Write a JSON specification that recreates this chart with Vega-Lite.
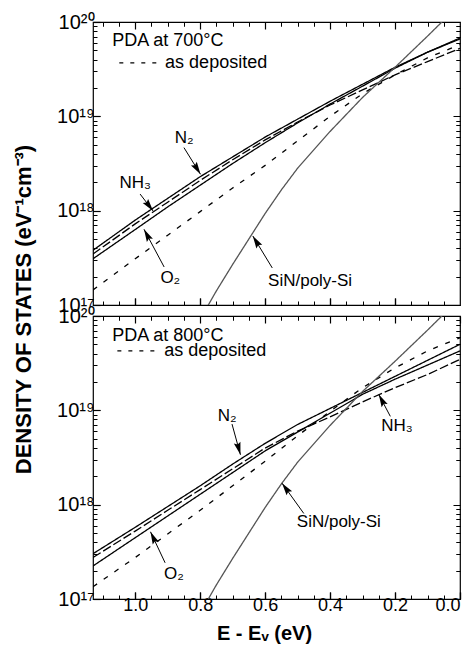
{
  "$schema": "https://vega.github.io/schema/vega-lite/v6.json",
  "background": "white",
  "padding": {"left": 11, "top": 11, "right": 0, "bottom": 0},
  "bounds": "flush",
  "spacing": 11,
  "config": {
    "font": "Liberation Sans",
    "view": {"stroke": "black", "strokeWidth": 1.2},
    "axis": {"domain": false, "labelColor": "black", "titleColor": "black", "labelFont": "Liberation Sans", "titleFont": "Liberation Sans", "labelOverlap": false}
  },
  "datasets": {
    "curves": [
      {"p":"700","s":"O2","x":1.13,"y":3.09e17},{"p":"700","s":"O2","x":1.0,"y":6.31e17},{"p":"700","s":"O2","x":0.9,"y":1.096e18},{"p":"700","s":"O2","x":0.8,"y":1.862e18},{"p":"700","s":"O2","x":0.7,"y":3.162e18},{"p":"700","s":"O2","x":0.6,"y":5.248e18},{"p":"700","s":"O2","x":0.5,"y":8.511e18},{"p":"700","s":"O2","x":0.4,"y":1.349e19},{"p":"700","s":"O2","x":0.3,"y":2.089e19},{"p":"700","s":"O2","x":0.2,"y":3.236e19},{"p":"700","s":"O2","x":0.1,"y":4.786e19},{"p":"700","s":"O2","x":0.0,"y":6.607e19},
      {"p":"700","s":"N2","x":1.13,"y":3.802e17},{"p":"700","s":"N2","x":1.0,"y":7.943e17},{"p":"700","s":"N2","x":0.9,"y":1.349e18},{"p":"700","s":"N2","x":0.8,"y":2.291e18},{"p":"700","s":"N2","x":0.7,"y":3.715e18},{"p":"700","s":"N2","x":0.6,"y":6.026e18},{"p":"700","s":"N2","x":0.5,"y":9.333e18},{"p":"700","s":"N2","x":0.4,"y":1.445e19},{"p":"700","s":"N2","x":0.3,"y":2.188e19},{"p":"700","s":"N2","x":0.2,"y":3.311e19},{"p":"700","s":"N2","x":0.1,"y":4.786e19},{"p":"700","s":"N2","x":0.0,"y":6.761e19},
      {"p":"700","s":"NH3","x":1.13,"y":3.467e17},{"p":"700","s":"NH3","x":1.0,"y":7.244e17},{"p":"700","s":"NH3","x":0.9,"y":1.23e18},{"p":"700","s":"NH3","x":0.8,"y":2.089e18},{"p":"700","s":"NH3","x":0.7,"y":3.467e18},{"p":"700","s":"NH3","x":0.6,"y":5.623e18},{"p":"700","s":"NH3","x":0.5,"y":8.71e18},{"p":"700","s":"NH3","x":0.4,"y":1.318e19},{"p":"700","s":"NH3","x":0.3,"y":1.905e19},{"p":"700","s":"NH3","x":0.2,"y":2.754e19},{"p":"700","s":"NH3","x":0.1,"y":3.802e19},{"p":"700","s":"NH3","x":0.0,"y":5.248e19},
      {"p":"700","s":"dep","x":1.13,"y":1.445e17},{"p":"700","s":"dep","x":1.0,"y":3.09e17},{"p":"700","s":"dep","x":0.9,"y":5.495e17},{"p":"700","s":"dep","x":0.8,"y":9.772e17},{"p":"700","s":"dep","x":0.7,"y":1.738e18},{"p":"700","s":"dep","x":0.6,"y":3.02e18},{"p":"700","s":"dep","x":0.5,"y":5.495e18},{"p":"700","s":"dep","x":0.4,"y":1e19},{"p":"700","s":"dep","x":0.3,"y":1.738e19},{"p":"700","s":"dep","x":0.2,"y":2.754e19},{"p":"700","s":"dep","x":0.1,"y":4.169e19},{"p":"700","s":"dep","x":0.0,"y":5.754e19},
      {"p":"700","s":"SiN","x":0.79,"y":8.128e16},{"p":"700","s":"SiN","x":0.75,"y":1.413e17},{"p":"700","s":"SiN","x":0.7,"y":2.692e17},{"p":"700","s":"SiN","x":0.65,"y":5.012e17},{"p":"700","s":"SiN","x":0.6,"y":9.333e17},{"p":"700","s":"SiN","x":0.55,"y":1.66e18},{"p":"700","s":"SiN","x":0.5,"y":2.818e18},{"p":"700","s":"SiN","x":0.4,"y":6.918e18},{"p":"700","s":"SiN","x":0.3,"y":1.585e19},{"p":"700","s":"SiN","x":0.2,"y":3.311e19},{"p":"700","s":"SiN","x":0.1,"y":7.079e19},{"p":"700","s":"SiN","x":0.05,"y":1.047e20},{"p":"700","s":"SiN","x":0.0,"y":1.514e20},
      {"p":"800","s":"N2","x":1.13,"y":3.02e17},{"p":"800","s":"N2","x":1.0,"y":5.754e17},{"p":"800","s":"N2","x":0.9,"y":9.55e17},{"p":"800","s":"N2","x":0.8,"y":1.585e18},{"p":"800","s":"N2","x":0.7,"y":2.692e18},{"p":"800","s":"N2","x":0.6,"y":4.467e18},{"p":"800","s":"N2","x":0.5,"y":7.079e18},{"p":"800","s":"N2","x":0.4,"y":1.047e19},{"p":"800","s":"N2","x":0.3,"y":1.549e19},{"p":"800","s":"N2","x":0.2,"y":2.291e19},{"p":"800","s":"N2","x":0.1,"y":3.388e19},{"p":"800","s":"N2","x":0.0,"y":5.012e19},
      {"p":"800","s":"O2","x":1.13,"y":2.239e17},{"p":"800","s":"O2","x":1.0,"y":4.467e17},{"p":"800","s":"O2","x":0.9,"y":7.586e17},{"p":"800","s":"O2","x":0.8,"y":1.288e18},{"p":"800","s":"O2","x":0.7,"y":2.188e18},{"p":"800","s":"O2","x":0.6,"y":3.715e18},{"p":"800","s":"O2","x":0.5,"y":5.888e18},{"p":"800","s":"O2","x":0.4,"y":9.333e18},{"p":"800","s":"O2","x":0.3,"y":1.479e19},{"p":"800","s":"O2","x":0.2,"y":2.138e19},{"p":"800","s":"O2","x":0.1,"y":3.02e19},{"p":"800","s":"O2","x":0.0,"y":4.266e19},
      {"p":"800","s":"NH3","x":1.13,"y":2.754e17},{"p":"800","s":"NH3","x":1.0,"y":5.248e17},{"p":"800","s":"NH3","x":0.9,"y":8.71e17},{"p":"800","s":"NH3","x":0.8,"y":1.445e18},{"p":"800","s":"NH3","x":0.7,"y":2.399e18},{"p":"800","s":"NH3","x":0.6,"y":3.981e18},{"p":"800","s":"NH3","x":0.5,"y":6.026e18},{"p":"800","s":"NH3","x":0.4,"y":8.511e18},{"p":"800","s":"NH3","x":0.3,"y":1.23e19},{"p":"800","s":"NH3","x":0.2,"y":1.738e19},{"p":"800","s":"NH3","x":0.1,"y":2.399e19},{"p":"800","s":"NH3","x":0.0,"y":3.467e19},
      {"p":"800","s":"dep","x":1.13,"y":1.349e17},{"p":"800","s":"dep","x":1.0,"y":2.754e17},{"p":"800","s":"dep","x":0.9,"y":4.898e17},{"p":"800","s":"dep","x":0.8,"y":8.71e17},{"p":"800","s":"dep","x":0.7,"y":1.585e18},{"p":"800","s":"dep","x":0.6,"y":2.884e18},{"p":"800","s":"dep","x":0.5,"y":5.37e18},{"p":"800","s":"dep","x":0.4,"y":9.772e18},{"p":"800","s":"dep","x":0.3,"y":1.738e19},{"p":"800","s":"dep","x":0.2,"y":2.818e19},{"p":"800","s":"dep","x":0.1,"y":4.266e19},{"p":"800","s":"dep","x":0.0,"y":5.888e19},
      {"p":"800","s":"SiN","x":0.79,"y":8.128e16},{"p":"800","s":"SiN","x":0.75,"y":1.413e17},{"p":"800","s":"SiN","x":0.7,"y":2.692e17},{"p":"800","s":"SiN","x":0.65,"y":5.012e17},{"p":"800","s":"SiN","x":0.6,"y":9.333e17},{"p":"800","s":"SiN","x":0.55,"y":1.66e18},{"p":"800","s":"SiN","x":0.5,"y":2.818e18},{"p":"800","s":"SiN","x":0.4,"y":6.918e18},{"p":"800","s":"SiN","x":0.3,"y":1.585e19},{"p":"800","s":"SiN","x":0.2,"y":3.311e19},{"p":"800","s":"SiN","x":0.1,"y":7.079e19},{"p":"800","s":"SiN","x":0.05,"y":1.047e20},{"p":"800","s":"SiN","x":0.0,"y":1.514e20}
    ],
    "labels": [
      {"p":"700","x":0.849,"y":5.9e18,"t":"N\u2082"},
      {"p":"700","x":1.0,"y":1.97e18,"t":"NH\u2083"},
      {"p":"700","x":0.892,"y":1.93e17,"t":"O\u2082"},
      {"p":"700","x":0.4615,"y":1.8e17,"t":"SiN/poly-Si"},
      {"p":"800","x":0.717,"y":8.63e18,"t":"N\u2082"},
      {"p":"800","x":0.881,"y":1.86e17,"t":"O\u2082"},
      {"p":"800","x":0.194,"y":6.76e18,"t":"NH\u2083"},
      {"p":"800","x":0.373,"y":6.59e17,"t":"SiN/poly-Si"}
    ],
    "arrows": [
      {"p":"700","x":0.85,"y":4.66e18,"x2":0.799,"y2":2.43e18},
      {"p":"700","x":0.985,"y":1.5e18,"x2":0.945,"y2":9.93e17},
      {"p":"700","x":0.911,"y":2.53e17,"x2":0.973,"y2":6.35e17},
      {"p":"700","x":0.578,"y":2.47e17,"x2":0.638,"y2":5.4e17},
      {"p":"800","x":0.702,"y":7.15e18,"x2":0.676,"y2":3.38e18},
      {"p":"800","x":0.908,"y":2.42e17,"x2":0.953,"y2":5.16e17},
      {"p":"800","x":0.2145,"y":8.63e18,"x2":0.25,"y2":1.47e19},
      {"p":"800","x":0.481,"y":8.07e17,"x2":0.548,"y2":1.69e18}
    ],
    "legend": [
      {"p":"700","x":1.071,"y":6.31e19,"t":"PDA at 700\u00b0C"},
      {"p":"700","x":0.908,"y":3.68e19,"t":"as deposited"},
      {"p":"800","x":1.071,"y":6.17e19,"t":"PDA at 800\u00b0C"},
      {"p":"800","x":0.911,"y":4.27e19,"t":"as deposited"}
    ],
    "legdash": [
      {"p":"700","x":1.049,"x2":0.917,"y":3.68e19},
      {"p":"800","x":1.055,"x2":0.926,"y":4.27e19}
    ]
  },
  "vconcat": [
    {
      "width": 367, "height": 283,
      "layer": [
        {
          "data": {"name": "curves"},
          "transform": [{"filter": "datum.p == '700'"}],
          "mark": {"type": "line", "clip": true},
          "encoding": {
            "x": {"field": "x", "type": "quantitative", "scale": {"domain": [0, 1.13], "reverse": true, "nice": false, "zero": false},
              "axis": {"orient": "bottom", "values": [0.2,0.4,0.6,0.8,1.0], "labels": false, "title": null, "ticks": true, "tickSize": -7, "tickColor": "#000000", "tickWidth": 1.2, "grid": true, "gridColor": "#000000", "gridWidth": 1.2, "gridDash": [7, 269, 7]}},
            "y": {"field": "y", "type": "quantitative", "scale": {"type": "log", "domain": [1e17, 1e20], "nice": false},
              "axis": {"orient": "left", "values": [1e17,1e18,1e19,1e20],
                "labelExpr": "datum.value < 5e17 ? '10\u00b9\u2077' : datum.value < 5e18 ? '10\u00b9\u2078' : datum.value < 5e19 ? '10\u00b9\u2079' : '10\u00b2\u2070'",
                "labelFontSize": 20, "labelPadding": 6, "ticks": true, "tickSize": -7, "tickColor": "#000000", "tickWidth": 1.2, "grid": true, "gridColor": "#000000", "gridWidth": 1.2, "gridDash": [7, 353, 7],
                "title": "DENSITY OF STATES (eV\u207b\u00b9cm\u207b\u00b3)", "titleFontSize": 22, "titleFontWeight": "bold", "titleAngle": -90, "titleX": -63, "titleY": 287, "titleAlign": "center", "titleBaseline": "alphabetic"}},
            "color": {"field": "s", "type": "nominal", "scale": {"domain": ["N2","NH3","O2","dep","SiN"], "range": ["#000000","#000000","#000000","#000000","#555555"]}, "legend": null},
            "strokeWidth": {"field": "s", "type": "nominal", "scale": {"domain": ["N2","NH3","O2","dep","SiN"], "range": [1.3,1.3,2.8,2.8,0.7]}, "legend": null},
            "strokeDash": {"field": "s", "type": "nominal", "scale": {"domain": ["N2","NH3","O2","dep","SiN"], "range": [[1,0],[9,3],[1,0],[5,8],[1,0]]}, "legend": null}
          }
        },
        {
          "data": {"name": "arrows"},
          "transform": [{"filter": "datum.p == '700'"}],
          "mark": {"type": "rule", "color": "black", "strokeWidth": 1},
          "encoding": {
            "x": {"field": "x", "type": "quantitative", "axis": null},
            "y": {"field": "y", "type": "quantitative", "axis": null},
            "x2": {"field": "x2"}, "y2": {"field": "y2"}
          }
        },
        {
          "data": {"name": "arrows"},
          "transform": [{"filter": "datum.p == '700'"}, {"calculate": "atan2((datum.x - datum.x2)*325, (log(datum.y2) - log(datum.y))/LN10*94.3)*180/PI", "as": "ang"}],
          "mark": {"type": "point", "shape": "M0,0L0.6,2.2L0,1.85L-0.6,2.2Z", "filled": true, "color": "black", "opacity": 1, "size": 130, "strokeWidth": 0},
          "encoding": {
            "x": {"field": "x2", "type": "quantitative", "axis": null},
            "y": {"field": "y2", "type": "quantitative", "axis": null},
            "angle": {"field": "ang", "type": "quantitative", "scale": null}
          }
        },
        {
          "data": {"name": "labels"},
          "transform": [{"filter": "datum.p == '700'"}],
          "mark": {"type": "text", "fontSize": 17, "align": "center", "baseline": "middle", "color": "black"},
          "encoding": {
            "x": {"field": "x", "type": "quantitative",
              "axis": {"orient": "top", "values": [0.05,0.1,0.15,0.25,0.3,0.35,0.45,0.5,0.55,0.65,0.7,0.75,0.85,0.9,0.95,1.05,1.1], "labels": false, "title": null, "ticks": true, "tickSize": -4, "tickColor": "#000000", "grid": true, "gridColor": "#000000", "gridWidth": 1, "gridDash": [4, 275, 4]}},
            "y": {"field": "y", "type": "quantitative",
              "axis": {"orient": "right", "values": [2e17,3e17,4e17,5e17,6e17,7e17,8e17,9e17,2e18,3e18,4e18,5e18,6e18,7e18,8e18,9e18,2e19,3e19,4e19,5e19,6e19,7e19,8e19,9e19], "labels": false, "title": null, "ticks": true, "tickSize": -4, "tickColor": "#000000", "grid": true, "gridColor": "#000000", "gridWidth": 1, "gridDash": [4, 359, 4]}},
            "text": {"field": "t"}
          }
        },
        {
          "data": {"name": "legend"},
          "transform": [{"filter": "datum.p == '700'"}],
          "mark": {"type": "text", "fontSize": 18, "align": "left", "baseline": "middle", "color": "black"},
          "encoding": {
            "x": {"field": "x", "type": "quantitative", "axis": null},
            "y": {"field": "y", "type": "quantitative", "axis": null},
            "text": {"field": "t"}
          }
        },
        {
          "data": {"name": "legdash"},
          "transform": [{"filter": "datum.p == '700'"}],
          "mark": {"type": "rule", "color": "black", "strokeWidth": 1.3, "strokeDash": [4, 7]},
          "encoding": {
            "x": {"field": "x", "type": "quantitative", "axis": null},
            "x2": {"field": "x2"},
            "y": {"field": "y", "type": "quantitative", "axis": null}
          }
        }
      ],
      "resolve": {"axis": {"x": "independent", "y": "independent"}}
    },
    {
      "width": 367, "height": 283,
      "layer": [
        {
          "data": {"name": "curves"},
          "transform": [{"filter": "datum.p == '800'"}],
          "mark": {"type": "line", "clip": true},
          "encoding": {
            "x": {"field": "x", "type": "quantitative", "scale": {"domain": [0, 1.13], "reverse": true, "nice": false, "zero": false},
              "axis": {"orient": "bottom", "values": [0,0.2,0.4,0.6,0.8,1.0], "format": ".1f",
                "labelFontSize": 18, "labelPadding": 4, "ticks": true, "tickSize": -7, "tickColor": "#000000", "tickWidth": 1.2, "grid": true, "gridColor": "#000000", "gridWidth": 1.2, "gridDash": [7, 269, 7],
                "title": "E - E\u1d65 (eV)", "titleFontSize": 20, "titleFontWeight": "bold", "titleX": 171, "titleY": 40, "titleAlign": "center", "titleBaseline": "alphabetic"}},
            "y": {"field": "y", "type": "quantitative", "scale": {"type": "log", "domain": [1e17, 1e20], "nice": false},
              "axis": {"orient": "left", "values": [1e17,1e18,1e19,1e20],
                "labelExpr": "datum.value < 5e17 ? '10\u00b9\u2077' : datum.value < 5e18 ? '10\u00b9\u2078' : datum.value < 5e19 ? '10\u00b9\u2079' : '10\u00b2\u2070'",
                "labelFontSize": 20, "labelPadding": 6, "ticks": true, "tickSize": -7, "tickColor": "#000000", "tickWidth": 1.2, "grid": true, "gridColor": "#000000", "gridWidth": 1.2, "gridDash": [7, 353, 7], "title": null}},
            "color": {"field": "s", "type": "nominal", "scale": {"domain": ["N2","NH3","O2","dep","SiN"], "range": ["#000000","#000000","#000000","#000000","#555555"]}, "legend": null},
            "strokeWidth": {"field": "s", "type": "nominal", "scale": {"domain": ["N2","NH3","O2","dep","SiN"], "range": [1.3,1.3,2.8,2.8,0.7]}, "legend": null},
            "strokeDash": {"field": "s", "type": "nominal", "scale": {"domain": ["N2","NH3","O2","dep","SiN"], "range": [[1,0],[9,3],[1,0],[5,8],[1,0]]}, "legend": null}
          }
        },
        {
          "data": {"name": "arrows"},
          "transform": [{"filter": "datum.p == '800'"}],
          "mark": {"type": "rule", "color": "black", "strokeWidth": 1},
          "encoding": {
            "x": {"field": "x", "type": "quantitative", "axis": null},
            "y": {"field": "y", "type": "quantitative", "axis": null},
            "x2": {"field": "x2"}, "y2": {"field": "y2"}
          }
        },
        {
          "data": {"name": "arrows"},
          "transform": [{"filter": "datum.p == '800'"}, {"calculate": "atan2((datum.x - datum.x2)*325, (log(datum.y2) - log(datum.y))/LN10*94.3)*180/PI", "as": "ang"}],
          "mark": {"type": "point", "shape": "M0,0L0.6,2.2L0,1.85L-0.6,2.2Z", "filled": true, "color": "black", "opacity": 1, "size": 130, "strokeWidth": 0},
          "encoding": {
            "x": {"field": "x2", "type": "quantitative", "axis": null},
            "y": {"field": "y2", "type": "quantitative", "axis": null},
            "angle": {"field": "ang", "type": "quantitative", "scale": null}
          }
        },
        {
          "data": {"name": "labels"},
          "transform": [{"filter": "datum.p == '800'"}],
          "mark": {"type": "text", "fontSize": 17, "align": "center", "baseline": "middle", "color": "black"},
          "encoding": {
            "x": {"field": "x", "type": "quantitative",
              "axis": {"orient": "top", "values": [0.05,0.1,0.15,0.25,0.3,0.35,0.45,0.5,0.55,0.65,0.7,0.75,0.85,0.9,0.95,1.05,1.1], "labels": false, "title": null, "ticks": true, "tickSize": -4, "tickColor": "#000000", "grid": true, "gridColor": "#000000", "gridWidth": 1, "gridDash": [4, 275, 4]}},
            "y": {"field": "y", "type": "quantitative",
              "axis": {"orient": "right", "values": [2e17,3e17,4e17,5e17,6e17,7e17,8e17,9e17,2e18,3e18,4e18,5e18,6e18,7e18,8e18,9e18,2e19,3e19,4e19,5e19,6e19,7e19,8e19,9e19], "labels": false, "title": null, "ticks": true, "tickSize": -4, "tickColor": "#000000", "grid": true, "gridColor": "#000000", "gridWidth": 1, "gridDash": [4, 359, 4]}},
            "text": {"field": "t"}
          }
        },
        {
          "data": {"name": "legend"},
          "transform": [{"filter": "datum.p == '800'"}],
          "mark": {"type": "text", "fontSize": 18, "align": "left", "baseline": "middle", "color": "black"},
          "encoding": {
            "x": {"field": "x", "type": "quantitative", "axis": null},
            "y": {"field": "y", "type": "quantitative", "axis": null},
            "text": {"field": "t"}
          }
        },
        {
          "data": {"name": "legdash"},
          "transform": [{"filter": "datum.p == '800'"}],
          "mark": {"type": "rule", "color": "black", "strokeWidth": 1.3, "strokeDash": [4, 7]},
          "encoding": {
            "x": {"field": "x", "type": "quantitative", "axis": null},
            "x2": {"field": "x2"},
            "y": {"field": "y", "type": "quantitative", "axis": null}
          }
        }
      ],
      "resolve": {"axis": {"x": "independent", "y": "independent"}}
    }
  ]
}
